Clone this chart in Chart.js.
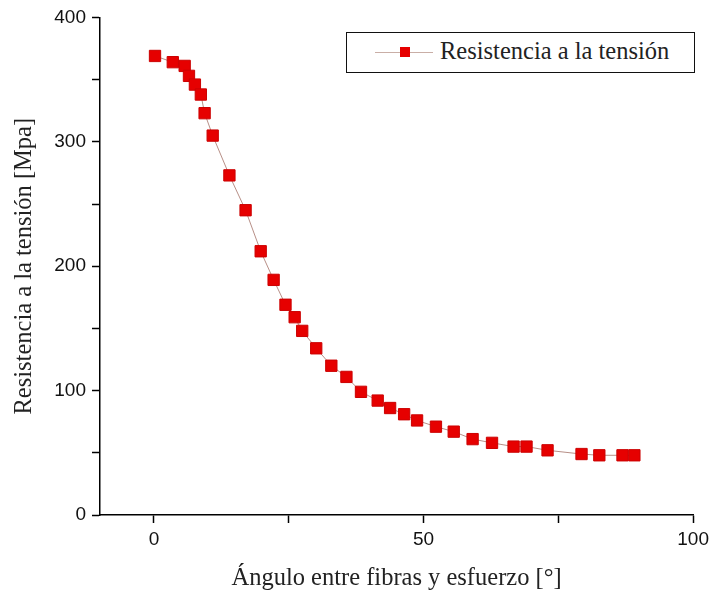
<!DOCTYPE html>
<html lang="es">
<head>
    <meta charset="UTF-8">
    <title>Resistencia a la tensión</title>
    <script src="https://cdn.jsdelivr.net/npm/chart.js"></script>
    <style>
        body { margin: 0; background: #fff; }
        #wrap { position: relative; width: 714px; height: 594px; }
        #legend {
            position: absolute; left: 346px; top: 32px; width: 349px; height: 41px;
            border: 1px solid #111; box-sizing: border-box; background: #fff;
            font-family: "Liberation Serif", serif; font-size: 24.5px; color: #222;
        }
        #legend .line { position: absolute; left: 28px; top: 19px; width: 58px; height: 1px; background: #c9aea6; }
        #legend .mark { position: absolute; left: 53px; top: 14px; width: 10px; height: 10px; background: #e60000; }
        #legend .txt { position: absolute; left: 93px; top: 4px; white-space: nowrap; }
    </style>
</head>
<body>
<div id="wrap">
    <canvas id="chart" width="714" height="594"></canvas>
    <div id="legend"><span class="line"></span><span class="mark"></span><span class="txt">Resistencia a la tensión</span></div>
</div>
<script>
    // angle between fibres and load (degrees)
    const angulo = [0.2, 3.5, 5.7, 6.5, 7.6, 8.7, 9.4, 10.9, 14.0, 17.0, 19.8, 22.2, 24.4, 26.1, 27.5,
        30.1, 32.9, 35.7, 38.4, 41.5, 43.8, 46.4, 48.8, 52.3, 55.6, 59.1, 62.7, 66.7, 69.1, 73.0,
        79.3, 82.6, 86.9, 89.1];
    // tensile strength (MPa)
    const resistencia = [369, 364, 361, 353, 346, 338, 323, 305, 273, 245, 212, 189, 169, 159, 148,
        134, 120, 111, 99, 92, 86, 81, 76, 71, 67, 61, 58, 55, 55, 52,
        49, 48, 48, 48];
    const xLabels = [0, 50, 100];
    const yLabels = [0, 100, 200, 300, 400];

    const points = angulo.map((a, i) => ({ x: a, y: resistencia[i] }));

    const tickFont = { family: '"Liberation Sans", Arial, sans-serif', size: 19 };
    const titleFont = { family: '"Liberation Serif", "Times New Roman", serif', size: 24.5 };

    new Chart(document.getElementById('chart'), {
        type: 'scatter',
        data: {
            datasets: [{
                label: 'Resistencia a la tensión',
                data: points,
                showLine: true,
                borderColor: 'rgba(165,115,105,0.8)',
                borderWidth: 1,
                pointStyle: 'rect',
                pointRadius: 8,
                pointBackgroundColor: '#e60000',
                pointBorderColor: '#cc0000',
                pointBorderWidth: 1,
                tension: 0
            }]
        },
        options: {
            responsive: false,
            animation: false,
            layout: { padding: { top: 15, right: 19, left: 0, bottom: 0 } },
            plugins: { legend: { display: false }, tooltip: { enabled: false } },
            scales: {
                x: {
                    type: 'linear', min: -10, max: 100,
                    afterBuildTicks: s => { s.ticks = s.ticks.filter(t => t.value >= 0); },
                    afterFit: s => { s.height = 79; },
                    border: { color: '#000', width: 1.5 },
                    grid: { drawOnChartArea: false, tickLength: 8, tickColor: '#000', tickWidth: 1.5 },
                    ticks: {
                        stepSize: 25, padding: 5, color: '#111', font: tickFont, maxRotation: 0,
                        callback: v => xLabels.includes(v) ? v : ''
                    },
                    title: { display: true, text: 'Ángulo entre fibras y esfuerzo [°]', color: '#222', font: titleFont, padding: { top: 0, bottom: 1 } }
                },
                y: {
                    type: 'linear', min: 0, max: 400,
                    afterFit: s => { s.width = 100; },
                    border: { color: '#000', width: 1.5 },
                    grid: { drawOnChartArea: false, tickLength: 8, tickColor: '#000', tickWidth: 1.5 },
                    ticks: {
                        stepSize: 50, padding: 6, color: '#111', font: tickFont,
                        callback: v => yLabels.includes(v) ? v : ''
                    },
                    title: { display: true, text: 'Resistencia a la tensión [Mpa]', color: '#222', font: titleFont, padding: { top: 10, bottom: 0 } }
                }
            }
        }
    });
</script>
</body>
</html>
